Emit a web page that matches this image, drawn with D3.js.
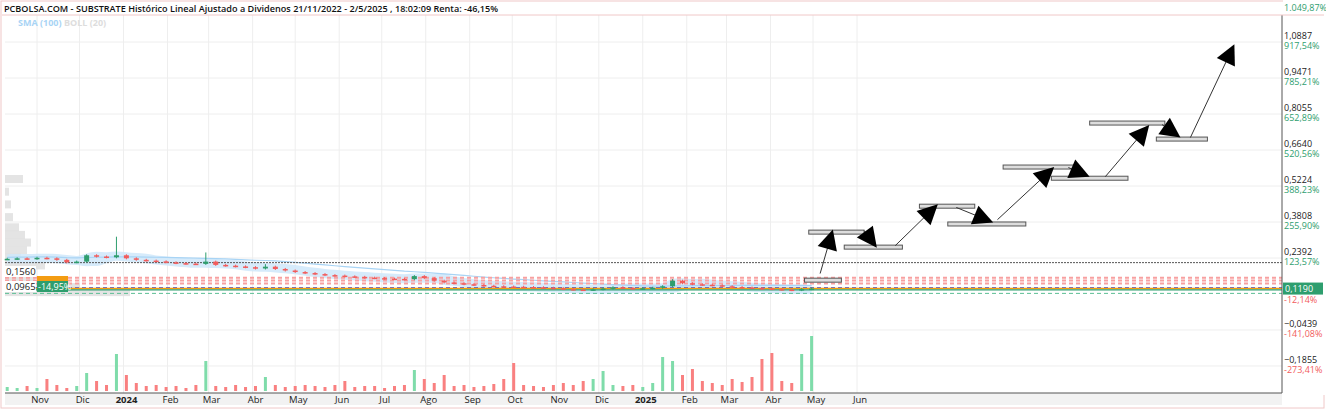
<!DOCTYPE html>
<html><head><meta charset="utf-8">
<script src="https://cdn.jsdelivr.net/npm/d3@7"></script>
<style>body{margin:0;background:#fff}svg{display:block;font-family:"Open Sans",sans-serif}</style>
</head><body><svg id="c" width="1326" height="411"></svg>
<script>
// ---- data ----
const weekStart = "2023-10-09";
const closes = [0.236,0.238,0.236,0.240,0.238,0.232,0.222,0.225,0.250,0.245,0.242,0.250,0.238,0.232,0.229,0.226,0.222,0.219,0.217,0.216,0.225,0.212,0.209,0.206,0.203,0.198,0.205,0.196,0.190,0.184,0.180,0.176,0.172,0.170,0.167,0.165,0.162,0.160,0.158,0.157,0.156,0.168,0.160,0.150,0.143,0.140,0.136,0.133,0.130,0.128,0.127,0.126,0.125,0.124,0.122,0.120,0.117,0.115,0.114,0.116,0.119,0.124,0.121,0.119,0.120,0.122,0.128,0.150,0.140,0.136,0.134,0.132,0.128,0.125,0.123,0.121,0.119,0.117,0.115,0.113,0.117,0.119];
const highs = {11:0.323,20:0.261,26:0.215,41:0.172,67:0.156};
const volumes = [4,3,5,3,12,6,3,5,18,10,6,37,16,8,5,6,4,5,3,6,30,5,4,6,4,5,14,6,4,5,6,5,4,6,10,4,5,5,3,5,6,21,12,8,16,5,6,4,5,7,12,28,6,5,4,6,8,6,10,12,20,6,5,6,4,8,34,30,16,22,10,8,6,12,9,14,32,38,10,8,37,55];
const ticks = [1.0887,0.9471,0.8055,0.6640,0.5224,0.3808,0.2392,-0.0439,-0.1855];
const tickPct = ["917,54%","785,21%","652,89%","520,56%","388,23%","255,90%","123,57%","-141,08%","-273,41%"];
const lastPrice = 0.1190, lastPct = "-12,14%";
const refLine = 0.221;
const dashLines = [{p:0.162,c:"#f8a0a0"},{p:0.151,c:"#f8a0a0"},{p:0.139,c:"#f8a0a0"},{p:0.122,c:"#2233dd"}];
const boxes = [["2025-04-25","2025-05-21",0.152],["2025-04-28","2025-06-06",0.341],["2025-05-23","2025-07-03",0.282],["2025-07-15","2025-08-23",0.443],["2025-08-04","2025-09-28",0.373],["2025-09-12","2025-11-03",0.597],["2025-10-16","2025-12-09",0.553],["2025-11-12","2026-01-04",0.770],["2025-12-29","2026-02-03",0.707]];
const arrows = [["2025-05-06",0.178,"2025-05-15",0.351],["2025-06-06",0.347,"2025-06-15",0.280],["2025-06-28",0.288,"2025-07-28",0.451],["2025-08-10",0.438,"2025-09-05",0.379],["2025-09-08",0.390,"2025-10-18",0.597],["2025-10-28",0.595,"2025-11-12",0.559],["2025-11-23",0.559,"2025-12-24",0.762],["2026-01-02",0.764,"2026-01-15",0.713],["2026-01-22",0.713,"2026-02-22",1.080]];
const months = [["2023-11-01","Nov"],["2023-12-01","Dic"],["2024-01-01","2024"],["2024-02-01","Feb"],["2024-03-01","Mar"],["2024-04-01","Abr"],["2024-05-01","May"],["2024-06-01","Jun"],["2024-07-01","Jul"],["2024-08-01","Ago"],["2024-09-01","Sep"],["2024-10-01","Oct"],["2024-11-01","Nov"],["2024-12-01","Dic"],["2025-01-01","2025"],["2025-02-01","Feb"],["2025-03-01","Mar"],["2025-04-01","Abr"],["2025-05-01","May"],["2025-06-01","Jun"]];
const profile = [[0.55,18],[0.50,4],[0.45,6],[0.40,8],[0.36,14],[0.33,20],[0.30,26],[0.27,22],[0.24,16],[0.21,40],[0.18,24],[0.15,30],[0.125,75],[0.105,125]];

// ---- chart ----
const svg = d3.select("#c");
const L=5, R=1282, T=14, B=393;
const p = d3.timeParse("%Y-%m-%d");
const x = d3.scaleTime().domain([p("2023-11-01"),p("2025-06-01")]).range([37,857]);
const y = d3.scaleLinear().domain([0.2392,0.3808]).range([258,222]);
const yv = d3.scaleLinear().domain([0,55]).range([391,336]);
const w0 = p(weekStart);
const wd = i => d3.timeDay.offset(w0, i*7+2);

svg.append("rect").attr("x",1).attr("y",1).attr("width",1323).attr("height",407).attr("fill","none").attr("stroke","#f0c8c8");
ticks.forEach(t=>svg.append("line").attr("x1",L).attr("x2",R).attr("y1",y(t)).attr("y2",y(t)).attr("stroke","#eee"));
months.forEach(m=>svg.append("line").attr("x1",x(p(m[0]))).attr("x2",x(p(m[0]))).attr("y1",T).attr("y2",B).attr("stroke","#eee"));

profile.forEach(d=>svg.append("rect").attr("x",L).attr("y",y(d[0])-4).attr("width",d[1]).attr("height",8).attr("fill","#ddd").attr("opacity",0.8));

const pts = closes.map((c,i)=>({d:wd(i),c}));
const boll = pts.map((d,i)=>{const s=closes.slice(Math.max(0,i-3),i+1);const m=d3.mean(s);const sd=d3.deviation(s)||0;const w=Math.max(2*sd,0.018);return {d:d.d,lo:m-w,hi:m+w};});
svg.append("path").datum(boll).attr("fill","#cfe8fa").attr("opacity",0.85).attr("d",d3.area().x(d=>x(d.d)).y0(d=>y(d.lo)).y1(d=>y(d.hi)).curve(d3.curveMonotoneX));
const sma = pts.map((d,i)=>({d:d.d,v:d3.mean(closes.slice(Math.max(0,i-19),i+1))+0.006}));
svg.append("path").datum(sma).attr("fill","none").attr("stroke","#a8d4f5").attr("stroke-width",1.2).attr("d",d3.line().x(d=>x(d.d)).y(d=>y(d.v)));

svg.append("line").attr("x1",L).attr("x2",R).attr("y1",y(refLine)).attr("y2",y(refLine)).attr("stroke","#555").attr("stroke-dasharray","2,1");
dashLines.forEach(l=>svg.append("line").attr("x1",L).attr("x2",R).attr("y1",y(l.p)).attr("y2",y(l.p)).attr("stroke",l.c).attr("stroke-width",l.c=="#2233dd"?1.2:2).attr("stroke-dasharray","4,3"));
svg.append("line").attr("x1",L).attr("x2",R).attr("y1",y(0.119)).attr("y2",y(0.119)).attr("stroke","#f39c12").attr("stroke-width",1.5);
svg.append("line").attr("x1",L).attr("x2",R).attr("y1",y(0.114)).attr("y2",y(0.114)).attr("stroke","#2e9e6e").attr("stroke-width",1.2);
svg.append("line").attr("x1",L).attr("x2",R).attr("y1",y(0.1)).attr("y2",y(0.1)).attr("stroke","#5cbf95").attr("stroke-dasharray","4,3");

pts.forEach((d,i)=>{const o=i?closes[i-1]:d.c;const up=d.c>=o;const col=up?"#2e9e6e":"#f25c5c";
  const hi=highs[i]||Math.max(o,d.c)+0.004, lo=Math.min(o,d.c)-0.004;
  const cx=x(d.d);
  svg.append("line").attr("x1",cx).attr("x2",cx).attr("y1",y(hi)).attr("y2",y(lo)).attr("stroke",col);
  svg.append("rect").attr("x",cx-2.5).attr("width",5).attr("y",y(Math.max(o,d.c))).attr("height",Math.max(1.5,Math.abs(y(o)-y(d.c)))).attr("fill",col);
});
volumes.forEach((v,i)=>{const o=i?closes[i-1]:closes[i];const up=closes[i]>=o;
  svg.append("rect").attr("x",x(wd(i))-1.5).attr("width",3).attr("y",yv(v)).attr("height",yv(0)-yv(v)).attr("fill",up?"#7fdcaa":"#f98080");});

boxes.forEach(b=>svg.append("rect").attr("x",x(p(b[0]))).attr("width",x(p(b[1]))-x(p(b[0]))).attr("y",y(b[2])-2).attr("height",4).attr("fill","#ddd").attr("stroke","#555").attr("stroke-width",1));
arrows.forEach(a=>{const x1=x(p(a[0])),y1=y(a[1]),x2=x(p(a[2])),y2=y(a[3]);
  const ang=Math.atan2(y2-y1,x2-x1);
  svg.append("line").attr("x1",x1).attr("y1",y1).attr("x2",x2-Math.cos(ang)*12).attr("y2",y2-Math.sin(ang)*12).attr("stroke","#333").attr("stroke-width",1);
  const hl=20,hw=10;const bx=x2-Math.cos(ang)*hl,by=y2-Math.sin(ang)*hl;
  svg.append("path").attr("d",`M${x2},${y2}L${bx+Math.sin(ang)*hw},${by-Math.cos(ang)*hw}L${bx-Math.sin(ang)*hw},${by+Math.cos(ang)*hw}Z`).attr("fill","#000");
});

svg.append("rect").attr("x",37).attr("y",276).attr("width",31).attr("height",5).attr("fill","#f39c12");
svg.append("rect").attr("x",37).attr("y",281).attr("width",31).attr("height",11).attr("fill","#2e9e6e");
svg.append("text").attr("x",38).attr("y",290).attr("font-size",9).attr("fill","#fff").text("-14,95%");
svg.append("rect").attr("x",5).attr("y",266).attr("width",31).attr("height",11).attr("fill","#fff");
svg.append("text").attr("x",6).attr("y",275).attr("font-size",9.5).attr("fill","#222").text("0,1560");
svg.append("rect").attr("x",5).attr("y",281).attr("width",31).attr("height",11).attr("fill","#fff");
svg.append("text").attr("x",6).attr("y",290).attr("font-size",9.5).attr("fill","#222").text("0,0965");

svg.append("rect").attr("x",R+1).attr("y",0).attr("width",42).attr("height",395).attr("fill","#fff");
svg.append("line").attr("x1",R).attr("x2",R).attr("y1",15).attr("y2",B).attr("stroke","#555");
const fmt = v=>d3.format(".4f")(v).replace(".",",");
ticks.forEach((t,i)=>{const yy=y(t);
  svg.append("text").attr("x",R+2).attr("y",yy-3).attr("font-size",9).attr("fill","#222").text(fmt(t));
  svg.append("text").attr("x",R+2).attr("y",yy+7).attr("font-size",9).attr("fill",t<0?"#f25c5c":"#2e9e6e").text(tickPct[i]);});
const ly = y(lastPrice);
svg.append("rect").attr("x",R+1).attr("y",ly-6).attr("width",40).attr("height",12).attr("fill","#2e9e6e");
svg.append("text").attr("x",R+3).attr("y",ly+3.5).attr("font-size",9).attr("fill","#fff").text(fmt(lastPrice));
svg.append("text").attr("x",R+2).attr("y",ly+14).attr("font-size",9).attr("fill","#f25c5c").text(lastPct);

svg.append("rect").attr("x",L).attr("y",B).attr("width",R-L).attr("height",12).attr("fill","#f2f2f2");
svg.append("line").attr("x1",L).attr("x2",R).attr("y1",B).attr("y2",B).attr("stroke","#555");
months.forEach(m=>svg.append("text").attr("x",x(p(m[0]))+3).attr("y",403).attr("text-anchor","middle").attr("font-size",9.5).attr("font-weight",m[1].length==4?"bold":"normal").attr("fill","#222").text(m[1]));

svg.append("rect").attr("x",2).attr("y",2).attr("width",R-2).attr("height",13).attr("fill","#fff");
svg.append("line").attr("x1",2).attr("x2",1324).attr("y1",15).attr("y2",15).attr("stroke","#f0c8c8");
svg.append("text").attr("x",4).attr("y",12).attr("font-size",9.1).attr("font-weight",600).attr("fill","#111").text("PCBOLSA.COM - SUBSTRATE Histórico Lineal Ajustado a Dividenos 21/11/2022 - 2/5/2025 , 18:02:09 Renta: -46,15%");
svg.append("text").attr("x",1284).attr("y",11).attr("font-size",9).attr("fill","#2e9e6e").text("1.049,87%");
svg.append("text").attr("x",18).attr("y",26).attr("font-size",9).attr("font-weight","bold").attr("fill","#a8d4f5").text("SMA (100)");
svg.append("text").attr("x",64).attr("y",26).attr("font-size",9).attr("font-weight","bold").attr("fill","#ddd").text("BOLL (20)");
</script></body></html>
